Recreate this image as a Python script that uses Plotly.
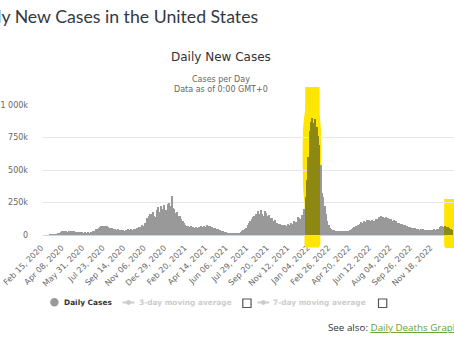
import numpy as np
import pandas as pd
import plotly.graph_objects as go

# Daily new cases in the United States, in thousands.
# Two readings per week (3.5-day bins) starting Saturday 15 Feb 2020.
START = "2020-02-15"
STEP_DAYS = 3.5
cases_k = [
    0, 0, 0, 0, 0.1, 0.1, 0.5, 0.8, 3, 6, 12, 19, 24, 28, 29, 27,
    30, 26, 29, 27, 28, 26, 27, 24, 25, 22, 24, 22, 22, 19, 21, 19,
    21, 18, 22, 20, 30, 34, 44, 48, 52, 58, 66, 70, 68, 66, 66, 60,
    56, 52, 54, 48, 46, 42, 43, 40, 42, 38, 36, 33, 40, 38, 43, 40,
    45, 42, 48, 46, 55, 50, 62, 58, 78, 72, 92, 95, 130, 145, 165, 160,
    180, 150, 140, 190, 215, 180, 225, 200, 230, 160, 190, 235, 245, 220, 300, 210,
    200, 170, 180, 150, 145, 125, 110, 95, 80, 72, 70, 65, 66, 60, 60, 55,
    58, 55, 62, 58, 68, 62, 72, 65, 78, 70, 72, 65, 62, 56, 52, 46,
    45, 38, 35, 30, 28, 24, 20, 16, 16, 13, 14, 12, 13, 11, 14, 12,
    16, 20, 28, 35, 45, 55, 75, 90, 110, 125, 135, 150, 160, 150, 185, 165,
    190, 160, 150, 185, 170, 150, 155, 130, 130, 110, 115, 95, 95, 88, 88, 75,
    80, 70, 78, 68, 85, 75, 95, 85, 110, 80, 100, 140, 130, 120, 155, 130,
    200, 290, 420, 600, 800, 870, 900, 860, 890, 830, 760, 690, 540, 320, 290, 220,
    160, 110, 80, 55, 45, 35, 38, 30, 32, 28, 30, 27, 29, 27, 30, 28,
    34, 32, 40, 45, 52, 58, 68, 62, 80, 85, 98, 95, 110, 100, 115, 95,
    118, 110, 115, 105, 110, 125, 120, 135, 130, 145, 140, 128, 135, 125, 130, 120,
    122, 110, 115, 100, 105, 92, 95, 85, 88, 75, 75, 68, 70, 60, 62, 56,
    55, 50, 52, 46, 48, 42, 45, 40, 44, 38, 42, 38, 40, 37, 42, 38,
    45, 40, 48, 44, 62, 66, 68, 64, 66, 62, 60, 55, 48, 38,
]

tick_labels = [
    "Feb 15, 2020", "Apr 08, 2020", "May 31, 2020", "Jul 23, 2020",
    "Sep 14, 2020", "Nov 06, 2020", "Dec 29, 2020", "Feb 20, 2021",
    "Apr 14, 2021", "Jun 06, 2021", "Jul 29, 2021", "Sep 20, 2021",
    "Nov 12, 2021", "Jan 04, 2022", "Feb 26, 2022", "Apr 20, 2022",
    "Jun 12, 2022", "Aug 04, 2022", "Sep 26, 2022", "Nov 18, 2022",
]
y_ticks = [0, 250000, 500000, 750000, 1000000]
y_tick_labels = ["0", "250k", "500k", "750k", "1 000k"]

# Periods marked with a highlighter
highlights = [("2021-12-21", "2022-01-28"), ("2022-12-16", "2023-01-31")]

BAR = "#999999"
BAR_MARKED = "#8d8812"
YELLOW = "#ffe600"
FONT = "DejaVu Sans"

start = pd.Timestamp(START)
dates = start + pd.to_timedelta(np.arange(len(cases_k)) * STEP_DAYS + STEP_DAYS / 2, unit="D")
values = np.array(cases_k, dtype=float) * 1000
tick_dates = pd.to_datetime(tick_labels, format="%b %d, %Y")

marks = [(pd.Timestamp(a), pd.Timestamp(b)) for a, b in highlights]
colors = [BAR_MARKED if any(a <= d <= b for a, b in marks) else BAR for d in dates]

# plot area geometry (pixels)
L, R, T, B = 36, 0, 105, 106
W, H = 454, 341
PW, PH = W - L - R, H - T - B


def px(x):
    return (x - L) / PW


def py(y):
    return (T + PH - y) / PH


fig = go.Figure()
fig.add_bar(
    x=dates, y=values, width=STEP_DAYS * 86400000,
    marker=dict(color=colors, line=dict(width=0)),
    showlegend=False, hoverinfo="skip",
)

x0 = start - pd.Timedelta(days=2.54)
x1 = start + pd.Timedelta(days=1060.3)

fig.update_layout(
    width=W, height=H,
    margin=dict(l=L, r=R, t=T, b=B, pad=0),
    paper_bgcolor="white", plot_bgcolor="white",
    bargap=0,
    xaxis=dict(
        type="date", range=[x0, x1],
        tickmode="array", tickvals=tick_dates, ticktext=tick_labels,
        tickangle=-45, tickfont=dict(family=FONT, size=8, color="#666666"),
        showgrid=False, zeroline=False, ticks="",
        showline=True, linecolor="#ccd6eb", linewidth=1,
        ticklabeloverflow="allow", ticklabelstandoff=4, ticklabelshift=-3,
    ),
    yaxis=dict(
        range=[0, 1000000], tickmode="array",
        tickvals=y_ticks, ticktext=y_tick_labels,
        tickfont=dict(family=FONT, size=8, color="#666666"),
        gridcolor="#e6e6e6", gridwidth=1, zeroline=False, showline=False,
        ticks="", ticklabelstandoff=14, ticklabeloverflow="allow",
    ),
)


def path_from(points):
    pts = [f"{px(x):.5f},{py(y):.5f}" for x, y in points]
    return "M " + " L ".join(pts) + " Z"


# highlighter strokes
stroke1 = [(302.7, 87), (317.3, 87), (317.4, 114), (318.6, 128), (319.1, 150),
           (318.9, 180), (318.1, 196), (318.0, 235), (302.0, 235), (302.0, 205),
           (300.6, 190), (300.0, 160), (300.3, 130), (301.5, 118), (302.6, 110)]
stroke1_low = [(302.0, 235), (318.0, 235), (318.2, 244), (316.5, 247.5),
               (303.5, 247.5), (301.8, 244)]
stroke2 = [(444.0, 199), (455, 199), (455, 235), (444.0, 235)]
stroke2_low = [(444.0, 235), (455, 235), (455, 248), (445.5, 248), (444.0, 246)]

for pts, layer in [(stroke1, "between"), (stroke2, "between"),
                   (stroke1_low, "above"), (stroke2_low, "above")]:
    fig.add_shape(type="path", path=path_from(pts), xref="paper", yref="paper",
                  fillcolor=YELLOW, line=dict(width=0), layer=layer)


def text(s, x, y, size, color, family=FONT, xanchor="center"):
    fig.add_annotation(text=s, x=px(x), y=py(y), xref="paper", yref="paper",
                       xanchor=xanchor, yanchor="middle", showarrow=False,
                       font=dict(family=family, size=size, color=color))


# page heading and chart titles
text("Daily New Cases in the United States", 257, 16, 17.7, "#333a44",
     family="Lato", xanchor="right")
text("Daily New Cases", 217, 57.5, 12, "#333333")
text("Cases per Day", 217, 79, 8, "#666666")
text("Data as of 0:00 GMT+0", 217, 89, 8, "#666666")

# legend
fig.add_shape(type="circle", xref="paper", yref="paper",
              x0=px(43.3), x1=px(51.9), y0=py(306.6), y1=py(298.0),
              fillcolor=BAR, line=dict(width=0))
text("<b>Daily Cases</b>", 55.5, 302.5, 7.4, "#333333", xanchor="left")
for lx, tx, cx in [(117, 133, 243), (254, 269, 381)]:
    fig.add_shape(type="line", xref="paper", yref="paper",
                  x0=px(lx), x1=px(lx + 12), y0=py(302.5), y1=py(302.5),
                  line=dict(color="#cccccc", width=2))
    fig.add_shape(type="circle", xref="paper", yref="paper",
                  x0=px(lx + 3.6), x1=px(lx + 8.4), y0=py(304.9), y1=py(300.1),
                  fillcolor="#cccccc", line=dict(width=0))
    fig.add_shape(type="rect", xref="paper", yref="paper",
                  x0=px(cx - 3.8), x1=px(cx + 4.6), y0=py(307.5), y1=py(299.0),
                  fillcolor="white", line=dict(color="#555555", width=1.2))
text("<b>3-day moving average</b>", 132, 302.5, 7.4, "#cccccc", xanchor="left")
text("<b>7-day moving average</b>", 268, 302.5, 7.4, "#cccccc", xanchor="left")

# footer link
fig.add_annotation(
    text='See also: <span style="color:#66a330;text-decoration:underline">Daily Deaths Graph</span>',
    x=px(324), y=py(327.5), xref="paper", yref="paper", xanchor="left",
    yanchor="middle", showarrow=False,
    font=dict(family="Open Sans", size=9.8, color="#333333"),
)

fig.write_html("out.html")
